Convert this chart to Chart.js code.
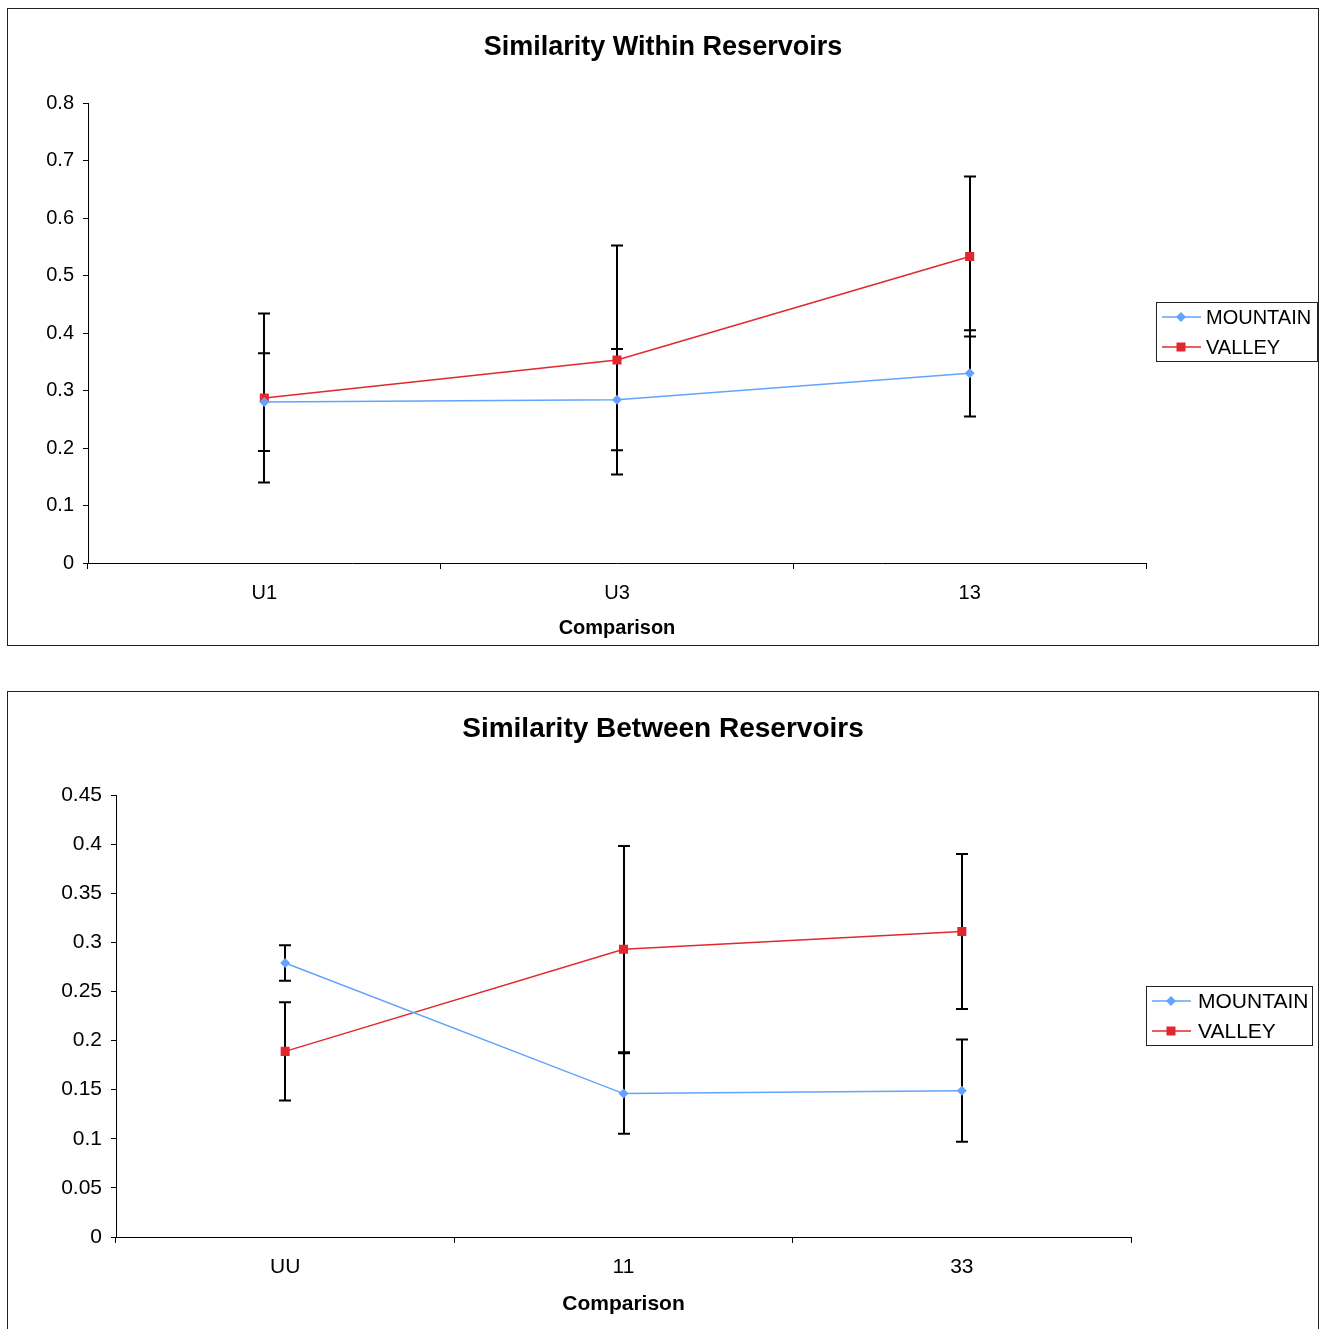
<!DOCTYPE html>
<html>
<head>
<meta charset="utf-8">
<script src="https://cdn.jsdelivr.net/npm/chart.js@4.4.0/dist/chart.umd.min.js"></script>
<style>
  body { margin: 0; background: #fff; }
  .box { position: absolute; border: 1px solid #222; background: #fff; }
  #box1 { left: 7px; top: 8px; width: 1310px; height: 636px; }
  #box2 { left: 7px; top: 691px; width: 1310px; height: 637px; }
  canvas { display: block; }
</style>
</head>
<body>
<div class="box" id="box1"><canvas id="within" width="1310" height="636"></canvas></div>
<div class="box" id="box2"><canvas id="between" width="1310" height="637"></canvas></div>
<script>
// data
const withinLabels = ["U1", "U3", "13"];
const withinMountain = [0.280, 0.284, 0.330];
const withinMountainErr = [0.085, 0.088, 0.075];
const withinValley = [0.287, 0.353, 0.533];
const withinValleyErr = [0.147, 0.199, 0.139];

const betweenLabels = ["UU", "11", "33"];
const betweenMountain = [0.279, 0.146, 0.149];
const betweenMountainErr = [0.018, 0.041, 0.052];
const betweenValley = [0.189, 0.293, 0.311];
const betweenValleyErr = [0.050, 0.105, 0.079];

const FONT = "'Liberation Sans', Arial, sans-serif";
const BLUE = "#62A3FF";
const RED = "#E0282E";

// black error bars, drawn under the lines
const errorBars = {
  id: "errorBars",
  beforeDatasetsDraw(chart, args, opts) {
    const { ctx, scales: { x, y } } = chart;
    ctx.save();
    ctx.strokeStyle = "#000";
    ctx.lineWidth = 2;
    chart.data.datasets.forEach((ds, i) => {
      (opts.errors[i] || []).forEach((e, j) => {
        const px = Math.round(x.getPixelForValue(j));
        const top = y.getPixelForValue(ds.data[j] + e);
        const bot = y.getPixelForValue(ds.data[j] - e);
        ctx.beginPath();
        ctx.moveTo(px, top); ctx.lineTo(px, bot);
        ctx.moveTo(px - 6, top); ctx.lineTo(px + 6, top);
        ctx.moveTo(px - 6, bot); ctx.lineTo(px + 6, bot);
        ctx.stroke();
      });
    });
    ctx.restore();
  }
};

// boxed legend on the right, Excel style
const boxLegend = {
  id: "boxLegend",
  afterDraw(chart, args, opts) {
    const { ctx } = chart;
    const x0 = opts.x, y0 = opts.y, w = opts.w, h = 59;
    ctx.save();
    ctx.strokeStyle = "#222";
    ctx.lineWidth = 1;
    ctx.strokeRect(x0 + 0.5, y0 + 0.5, w, h);
    ctx.font = opts.size + "px " + FONT;
    ctx.textBaseline = "middle";
    chart.data.datasets.forEach((ds, i) => {
      const cy = y0 + 15 + i * 30;
      ctx.strokeStyle = ds.borderColor;
      ctx.lineWidth = 1.5;
      ctx.beginPath();
      ctx.moveTo(x0 + 6, cy); ctx.lineTo(x0 + 45, cy);
      ctx.stroke();
      ctx.fillStyle = ds.borderColor;
      const mx = x0 + 25;
      if (ds.pointStyle === "rectRot") {
        ctx.beginPath();
        ctx.moveTo(mx, cy - 5); ctx.lineTo(mx + 5, cy); ctx.lineTo(mx, cy + 5); ctx.lineTo(mx - 5, cy);
        ctx.closePath(); ctx.fill();
      } else {
        ctx.fillRect(mx - 4.5, cy - 4.5, 9, 9);
      }
      ctx.fillStyle = "#000";
      ctx.fillText(ds.label, x0 + opts.textX, cy + 1);
    });
    ctx.restore();
  }
};

function drawChart(id, p) {
  new Chart(document.getElementById(id), {
    type: "line",
    data: {
      labels: p.labels,
      datasets: [
        { label: "MOUNTAIN", data: p.mountain, borderColor: BLUE, backgroundColor: BLUE,
          borderWidth: 1.5, pointStyle: "rectRot", pointRadius: 5, pointBorderWidth: 0 },
        { label: "VALLEY", data: p.valley, borderColor: RED, backgroundColor: RED,
          borderWidth: 1.5, pointStyle: "rect", pointRadius: 6.4, pointBorderWidth: 0 }
      ]
    },
    options: {
      responsive: false,
      animation: false,
      layout: { padding: 0 },
      plugins: {
        legend: { display: false },
        tooltip: { enabled: false },
        title: {
          display: true, text: p.title, color: "#000",
          font: { family: FONT, size: p.titleSize, weight: "bold" },
          padding: { top: p.titleTop, bottom: p.titleBottom }
        },
        errorBars: { errors: [p.mountainErr, p.valleyErr] },
        boxLegend: p.legend
      },
      scales: {
        x: {
          type: "category", offset: true,
          afterFit(s) { s.height = p.xHeight; },
          grid: { offset: true, drawOnChartArea: false, drawTicks: true, tickLength: 6, color: "#000" },
          border: { color: "#000", width: 1 },
          ticks: { color: "#000", padding: p.xPad, font: { family: FONT, size: p.size } },
          title: { display: true, text: "Comparison", color: "#000",
                   font: { family: FONT, size: p.size, weight: "bold" },
                   padding: { top: 0, bottom: p.xTitleBottom } }
        },
        y: {
          min: 0, max: p.max,
          afterFit(s) { s.width = p.yWidth; },
          grid: { drawOnChartArea: false, drawTicks: true, tickLength: 5, color: "#000" },
          border: { color: "#000", width: 1 },
          ticks: { stepSize: p.step, color: "#000", padding: 9,
                   font: { family: FONT, size: p.size },
                   callback: v => String(+v.toFixed(2)) }
        },
        // empty right-hand scale that only reserves room for the legend,
        // so the title stays centred over the whole box
        room: {
          type: "linear", position: "right",
          afterFit(s) { s.width = p.padRight; },
          grid: { display: false }, border: { display: false },
          ticks: { display: false }
        }
      }
    },
    plugins: [errorBars, boxLegend]
  });
}

drawChart("within", {
  title: "Similarity Within Reservoirs",
  labels: withinLabels, mountain: withinMountain, valley: withinValley,
  mountainErr: withinMountainErr, valleyErr: withinValleyErr,
  max: 0.8, step: 0.1, size: 20, titleSize: 27,
  padRight: 172, yWidth: 80, xHeight: 82, xPad: 12, xTitleBottom: 5,
  titleTop: 22, titleBottom: 39.6,
  legend: { x: 1148, y: 293, w: 161, textX: 50, size: 20 }
});

drawChart("between", {
  title: "Similarity Between Reservoirs",
  labels: betweenLabels, mountain: betweenMountain, valley: betweenValley,
  mountainErr: betweenMountainErr, valleyErr: betweenValleyErr,
  max: 0.45, step: 0.05, size: 21, titleSize: 28,
  padRight: 187, yWidth: 108, xHeight: 92, xPad: 12, xTitleBottom: 12,
  titleTop: 20, titleBottom: 49.4,
  legend: { x: 1138, y: 294, w: 166, textX: 52, size: 21 }
});
</script>
</body>
</html>
